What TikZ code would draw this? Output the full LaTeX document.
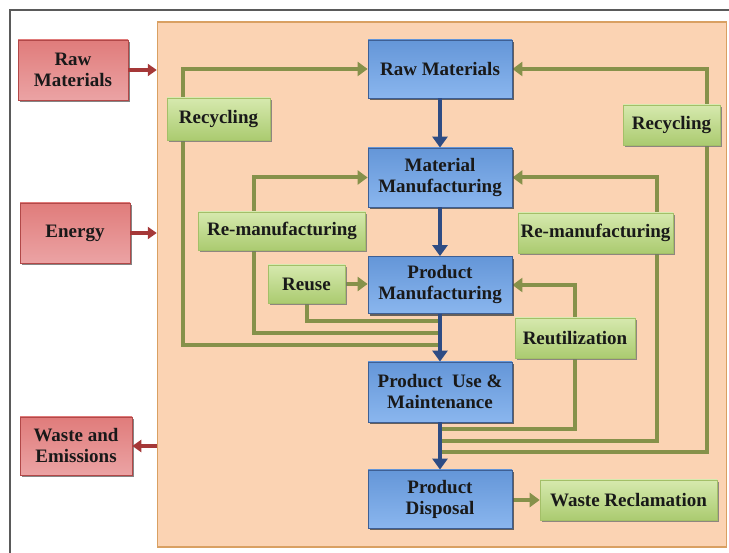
\documentclass[tikz,border=0pt]{standalone}
\usepackage{fontspec}
\setmainfont{Liberation Serif}
\usetikzlibrary{arrows.meta,shadows}
\definecolor{peach}{HTML}{FBD3B3}
\definecolor{peachedge}{HTML}{D9A062}
\definecolor{frameg}{HTML}{5A5A5A}
\definecolor{olive}{HTML}{86914A}
\definecolor{flowblue}{HTML}{2E4C84}
\definecolor{flowred}{HTML}{A53838}
\definecolor{blueedge}{HTML}{3E5F94}
\definecolor{bluetop}{HTML}{6496D8}
\definecolor{bluemid}{HTML}{74A5E6}
\definecolor{bluebot}{HTML}{8AB6EE}
\definecolor{greenedge}{HTML}{A3BF68}
\definecolor{greentop}{HTML}{D6E9AE}
\definecolor{greenbot}{HTML}{ABCB70}
\definecolor{rededge}{HTML}{B24848}
\definecolor{redtop}{HTML}{E07C7B}
\definecolor{redmid}{HTML}{D85A5C}
\definecolor{redbot}{HTML}{EBA3A4}
\pgfdeclarelayer{back}
\pgfdeclarelayer{mid}
\pgfsetlayers{back,mid,main}
\tikzset{
  txt/.style={font=\bfseries\fontsize{19}{21}\selectfont, text=black!90, align=center, inner sep=0pt},
  bluebox/.style={txt, draw=blueedge, line width=0.8pt, top color=bluetop, middle color=bluemid, bottom color=bluebot,
    drop shadow={shadow xshift=1.5pt, shadow yshift=-2.2pt, fill=black!70, opacity=0.85}},
  greenbox/.style={txt, draw=greenedge, line width=0.6pt, top color=greentop, bottom color=greenbot,
    drop shadow={shadow xshift=1.5pt, shadow yshift=-2.2pt, fill=black!55, opacity=0.8}},
  redbox/.style={txt, draw=rededge, line width=0.6pt, top color=redtop, middle color=redmid, bottom color=redbot,
    drop shadow={shadow xshift=1.5pt, shadow yshift=-2.2pt, fill=black!60, opacity=0.8}},
  gline/.style={draw=olive, line width=4pt},
  garrow/.style={gline, -{Triangle[length=10pt,width=14pt]}},
  barrow/.style={draw=flowblue, line width=4.5pt, -{Triangle[length=11pt,width=15pt]}},
  rarrow/.style={draw=flowred, line width=3.5pt, -{Triangle[length=9pt,width=12pt]}},
}
\begin{document}
\begin{tikzpicture}[x=1pt,y=-1pt]
\useasboundingbox (0,0) rectangle (729,553);

% outer frame (open at right and bottom)
\draw[frameg, line width=2pt] (10,553) -- (10,10) -- (729,10);

% peach panel holding the life cycle
\begin{pgfonlayer}{back}
\node[draw=peachedge, fill=peach, line width=1.5pt, minimum width=569pt, minimum height=525pt, inner sep=0pt] (panel) at (442,284.5) {};
\end{pgfonlayer}

% main life-cycle stages
\node[bluebox, minimum width=144pt, minimum height=58pt] (bRaw)  at (440,69)  {Raw Materials};
\node[bluebox, minimum width=144pt, minimum height=59pt] (bMat)  at (440,177.5) {Material\\Manufacturing};
\node[bluebox, minimum width=144pt, minimum height=57pt] (bProd) at (440,285) {Product\\Manufacturing};
\node[bluebox, minimum width=144pt, minimum height=60pt] (bUse)  at (440,392) {Product\ \ Use \&\\Maintenance};
\node[bluebox, minimum width=144pt, minimum height=58pt] (bDisp) at (440,499) {Product\\Disposal};

% recovery activities
\node[greenbox, minimum width=103pt, minimum height=42pt] (gRecL)  at (218.5,119) {Recycling};
\node[greenbox, minimum width=167pt, minimum height=38pt] (gRemL)  at (282,231)   {Re-manufacturing};
\node[greenbox, minimum width=77pt,  minimum height=38pt] (gReuse) at (306.5,284) {Reuse};
\node[greenbox, minimum width=97pt,  minimum height=40pt] (gRecR)  at (671.5,125) {Recycling};
\node[greenbox, minimum width=155pt, minimum height=40pt] (gRemR)  at (595.5,233) {Re-manufacturing};
\node[greenbox, minimum width=120pt, minimum height=40pt] (gReut)  at (575,338)   {Reutilization};
\node[greenbox, minimum width=177pt, minimum height=40pt] (gWaste) at (628.5,500) {Waste Reclamation};

% system inputs and outputs
\node[redbox, minimum width=110pt, minimum height=60pt] (rRaw)    at (73,70)  {Raw\\Materials};
\node[redbox, minimum width=110pt, minimum height=60pt] (rEnergy) at (75,233)  {Energy};
\node[redbox, minimum width=112pt, minimum height=58pt] (rWaste)  at (76,446)  {Waste and\\Emissions};

% junctions on the main flow
\coordinate (jReuse) at (440,321);
\coordinate (jRemL)  at (440,333);
\coordinate (jRecL)  at (440,345);
\coordinate (jReut)  at (440,429);
\coordinate (jRemR)  at (440,441);
\coordinate (jRecR)  at (440,452);
% loop corners
\coordinate (kRecL)  at (183,345);
\coordinate (kRemL)  at (254,333);
\coordinate (kReuse) at (307,321);
\coordinate (kReut)  at (575,429);
\coordinate (kRemR)  at (657,441);
\coordinate (kRecR)  at (707,452);

\begin{pgfonlayer}{mid}
% left-hand loops
\draw[garrow] (jRecL) -- (kRecL) |- (bRaw.west);
\draw[garrow] (jRemL) -- (kRemL) |- (bMat.west);
\draw[gline]  (jReuse) -- (kReuse) -- (kReuse |- gReuse.south);
\draw[garrow] (gReuse.east) -- (bProd.west |- gReuse.east);
% right-hand loops
\draw[garrow] (jRecR) -- (kRecR) |- (bRaw.east);
\draw[garrow] (jRemR) -- (kRemR) |- (bMat.east);
\draw[garrow] (jReut) -- (kReut) |- (bProd.east);
\draw[garrow] (bDisp.east |- gWaste.west) -- (gWaste.west);
\end{pgfonlayer}

% main flow
\draw[barrow] (bRaw.south)  -- (bMat.north);
\draw[barrow] (bMat.south)  -- (bProd.north);
\draw[barrow] (bProd.south) -- (bUse.north);
\draw[barrow] (bUse.south)  -- (bDisp.north);

% exchanges with the surroundings
\draw[rarrow] (rRaw.east) -- (panel.west |- rRaw.east);
\draw[rarrow] (rEnergy.east) -- (panel.west |- rEnergy.east);
\draw[rarrow] (panel.west |- rWaste.east) -- (rWaste.east);
\end{tikzpicture}
\end{document}
